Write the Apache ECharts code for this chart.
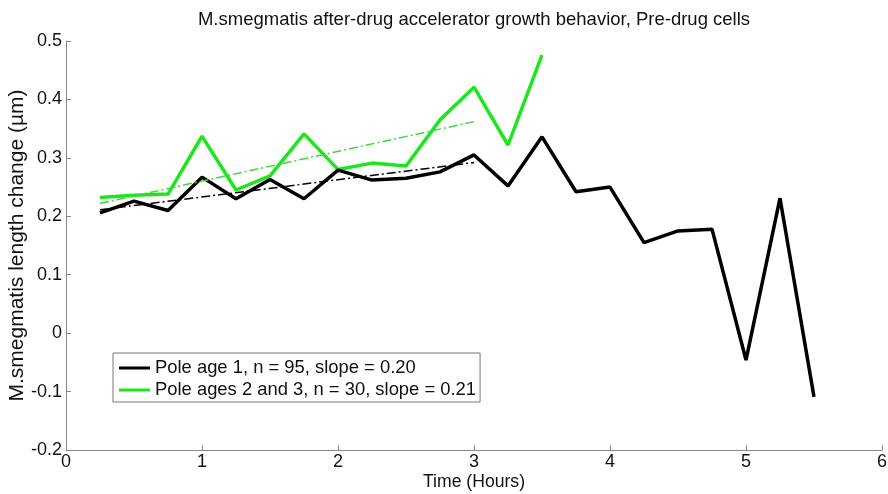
<!DOCTYPE html>
<html>
<head>
<meta charset="utf-8">
<script src="https://cdn.jsdelivr.net/npm/echarts@6/dist/echarts.min.js"></script>
<style>
  html, body { margin: 0; padding: 0; background: #fff; }
  #chart { width: 888px; height: 494px; }
</style>
</head>
<body>
<div id="chart"></div>
<script>
// Sampling times (hours)
const times = [0.25, 0.5, 0.75, 1.0, 1.25, 1.5, 1.75, 2.0, 2.25, 2.5, 2.75,
               3.0, 3.25, 3.5, 3.75, 4.0, 4.25, 4.5, 4.75, 5.0, 5.25, 5.5];

// Mean length change (µm), pole age 1
const poleAge1 = [0.206, 0.226, 0.210, 0.267, 0.230, 0.263, 0.230, 0.279, 0.262, 0.265, 0.276,
                  0.305, 0.252, 0.336, 0.242, 0.250, 0.155, 0.175, 0.178, -0.046, 0.231, -0.109];

// Mean length change (µm), pole ages 2 and 3
const poleAge23 = [0.232, 0.236, 0.238, 0.337, 0.245, 0.269, 0.341, 0.280, 0.291, 0.286, 0.365,
                   0.421, 0.322, 0.476];

// Linear fits over 0.25–3 h
const fitTimes = [0.25, 3.0];
const fitAge1 = [0.211, 0.292];
const fitAge23 = [0.222, 0.362];

const legendNames = ['Pole age 1, n = 95, slope = 0.20',
                     'Pole ages 2 and 3, n = 30, slope = 0.21'];

const pairs = (xs, ys) => ys.map((v, i) => [xs[i], v]);

const FONT = 'Liberation Sans, Arial, sans-serif';
const BLACK = '#000000';
const GREEN = '#1ee61e';

const chart = echarts.init(document.getElementById('chart'), null, { renderer: 'canvas' });

chart.setOption({
  animation: false,
  backgroundColor: '#ffffff',
  title: {
    text: 'M.smegmatis after-drug accelerator growth behavior, Pre-drug cells',
    left: 474, top: 10, textAlign: 'center', padding: 0,
    textStyle: { fontFamily: FONT, fontSize: 18.5, fontWeight: 'normal', color: '#111' }
  },
  grid: { left: 66, right: 6, top: 41, bottom: 44, containLabel: false, outerBoundsMode: 'none' },
  legend: {
    data: legendNames,
    orient: 'vertical',
    left: 113, top: 353,
    padding: [6, 4, 3, 6],
    itemGap: 4,
    itemWidth: 31, itemHeight: 3,
    icon: 'rect',
    borderColor: '#777', borderWidth: 1,
    backgroundColor: '#fff',
    textStyle: { fontFamily: FONT, fontSize: 18.4, color: '#111', lineHeight: 18 }
  },
  xAxis: {
    type: 'value', min: 0, max: 6, interval: 1,
    name: 'Time (Hours)', nameLocation: 'middle', nameGap: 23, nameMoveOverlap: false,
    nameTextStyle: { fontFamily: FONT, fontSize: 17.6, color: '#111' },
    axisLine: { show: true, onZero: false, lineStyle: { color: '#888', width: 1 } },
    axisTick: { show: true, inside: true, length: 5, lineStyle: { color: '#888' } },
    axisLabel: { fontFamily: FONT, fontSize: 18, color: '#111', margin: 3 },
    splitLine: { show: false }
  },
  yAxis: {
    type: 'value', min: -0.2, max: 0.5, interval: 0.1,
    name: 'M.smegmatis length change (µm)', nameLocation: 'middle', nameGap: 38, nameMoveOverlap: false,
    nameTextStyle: { fontFamily: FONT, fontSize: 21, color: '#111' },
    axisLine: { show: true, onZero: false, lineStyle: { color: '#888', width: 1 } },
    axisTick: { show: true, inside: true, length: 5, lineStyle: { color: '#888' } },
    axisLabel: {
      fontFamily: FONT, fontSize: 18, color: '#111', margin: 4,
      formatter: v => (Math.abs(v) < 1e-9 ? '0' : String(Math.round(v * 10) / 10))
    },
    splitLine: { show: false }
  },
  series: [
    {
      name: legendNames[0], type: 'line', data: pairs(times, poleAge1),
      showSymbol: false, color: BLACK, z: 4,
      lineStyle: { color: BLACK, width: 3.5 }
    },
    {
      name: legendNames[1], type: 'line', data: pairs(times, poleAge23),
      showSymbol: false, color: GREEN, z: 3,
      lineStyle: { color: GREEN, width: 3.5 }
    },
    {
      name: 'fit1', type: 'line', data: pairs(fitTimes, fitAge1),
      showSymbol: false, z: 5,
      lineStyle: { color: BLACK, width: 1.5, type: [9, 3, 2, 3] }
    },
    {
      name: 'fit23', type: 'line', data: pairs(fitTimes, fitAge23),
      showSymbol: false, z: 5,
      lineStyle: { color: '#3bd83b', width: 1.5, type: [9, 3, 2, 3] }
    }
  ]
});
</script>
</body>
</html>
